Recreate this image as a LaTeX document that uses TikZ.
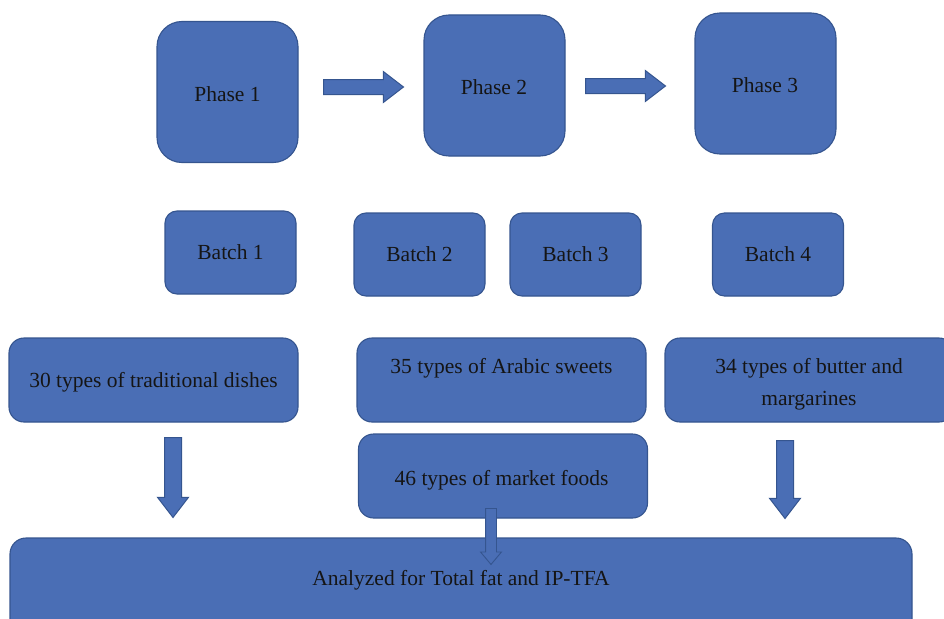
\documentclass[tikz,border=0pt]{standalone}
\usepackage{fontspec}
\setmainfont{Liberation Serif}
\usetikzlibrary{shapes.arrows}
\definecolor{boxfill}{HTML}{4A6EB5}
\definecolor{boxline}{HTML}{35558F}
\definecolor{txt}{HTML}{151515}
\tikzset{
  lbl/.style={text=txt, font=\fontsize{21.5}{25}\selectfont},
  blk/.style={draw=boxline, fill=boxfill, line width=1.1pt, lbl, inner sep=0pt},
  phasebox/.style={blk, rounded corners=25pt, minimum width=141pt, minimum height=141pt},
  batchbox/.style={blk, rounded corners=12pt, minimum width=131pt, minimum height=83pt},
  widebox/.style={blk, rounded corners=15pt, minimum width=289pt, minimum height=84pt},
  blockarrow/.style={single arrow, draw=boxline, fill=boxfill, line width=1pt, single arrow head indent=0pt, anchor=tail},
}
\begin{document}
\begin{tikzpicture}[x=1pt,y=-1pt]
\useasboundingbox (0,0) rectangle (944,618);
% phases
\node[phasebox] (p1) at (227.5,92) {};
\node[lbl] (p1t) at (227.5,94) {Phase 1};
\node[phasebox] (p2) at (494.5,85.5) {};
\node[lbl] (p2t) at (494,87) {Phase 2};
\node[phasebox] (p3) at (765.5,83.5) {};
\node[lbl] (p3t) at (765,85) {Phase 3};
% horizontal arrows
\node[blockarrow, inner sep=7pt, minimum height=80pt, single arrow head extend=8pt, single arrow tip angle=75] (a1) at (323,87) {};
\node[blockarrow, inner sep=7pt, minimum height=80pt, single arrow head extend=8pt, single arrow tip angle=75] (a2) at (585,86) {};
% batches
\node[batchbox] (b1) at (230.5,252.5) {Batch 1};
\node[batchbox] (b2) at (419.5,254.5) {Batch 2};
\node[batchbox] (b3) at (575.5,254.5) {Batch 3};
\node[batchbox] (b4) at (778,254.5) {Batch 4};
% wide boxes
\node[widebox] (t1) at (153.5,380) {};
\node[lbl] (t1t) at (153.5,382) {30 types of traditional dishes};
\node[widebox] (t2) at (501.5,380) {};
\node[lbl] (t2t) at (501.5,368) {35 types of Arabic sweets};
\node[widebox] (t3) at (809.5,380) {};
\node[lbl, align=center] (t3t) at (809,384) {34 types of butter and\\[7pt]margarines};
\node[widebox] (t4) at (503,476) {};
\node[lbl] (t4t) at (501.5,480) {46 types of market foods};
% analyzed box
\node[blk, rounded corners=16pt, minimum width=902pt, minimum height=100pt] (an) at (461,588) {};
\node[lbl] (ant) at (461,580) {Analyzed for Total fat and IP-TFA};
% down arrows
\node[blockarrow, inner sep=8pt, minimum height=80pt, single arrow head extend=7pt, single arrow tip angle=75, shape border rotate=270] (d1) at (173,437) {};
\node[blockarrow, inner sep=8pt, minimum height=78pt, single arrow head extend=7pt, single arrow tip angle=75, shape border rotate=270] (d2) at (785,440) {};
\node[blockarrow, inner sep=5pt, line width=0.9pt, minimum height=56pt, single arrow head extend=5pt, single arrow tip angle=80, shape border rotate=270] (d3) at (491,508) {};
\end{tikzpicture}
\end{document}
